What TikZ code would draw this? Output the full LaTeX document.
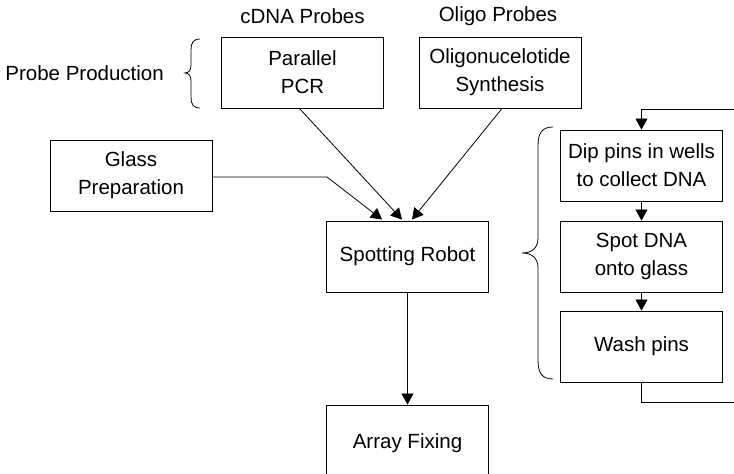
\documentclass[tikz,border=0pt]{standalone}
\usepackage{fontspec}
\setmainfont{Liberation Sans}
\usetikzlibrary{arrows.meta,calc}
\tikzset{
  box/.style={draw, line width=0.9pt, minimum width=162pt, minimum height=71pt, inner sep=0pt, align=center, font=\fontsize{20.5}{28}\selectfont},
  lbl/.style={inner sep=0pt, font=\fontsize{20.5}{28}\selectfont},
  conn/.style={line width=0.8pt},
  arr/.style={conn, -{Triangle[length=11pt,width=12pt]}},
  brace/.style={line width=0.8pt}
}
\begin{document}
\begin{tikzpicture}[x=1pt,y=-1pt]
\useasboundingbox (0,0) rectangle (734,474);
\clip (0,0) rectangle (734,474);
% nodes
\node[box] (pcr) at (302.5,72.5) {Parallel\\PCR};
\node[box] (oligo) at (500,72.5) {Oligonucelotide\\Synthesis};
\node[box] (glass) at (131,175.5) {Glass\\Preparation};
\node[box] (spot) at (407.5,256.5) {Spotting Robot};
\node[box, minimum height=75pt] (array) at (407.5,442.5) {};
\node[lbl] (arraytxt) at (407.5,443) {Array Fixing};
\node[box] (dip) at (641.5,165.5) {Dip pins in wells\\to collect DNA};
\node[box] (spotdna) at (641.5,256.5) {Spot DNA\\onto glass};
\node[box] (wash) at (641.5,346.5) {Wash pins};
% labels
\node[lbl] (cdna) at (302.5,16) {cDNA Probes};
\node[lbl] (oligop) at (498,16) {Oligo Probes};
\node[lbl, anchor=east] (prod) at (164,73) {Probe Production};
% braces
\draw[brace] (200,39) .. controls (193,39) and (191,43) .. (191,50) -- (191,65)
  .. controls (191,70) and (189,73) .. (185,73) .. controls (189,73) and (191,76) .. (191,81)
  -- (191,97) .. controls (191,104) and (193,108) .. (200,108);
\draw[brace] (553,127) .. controls (542,127) and (538,133) .. (538,146) -- (538,238)
  .. controls (538,248) and (532,253) .. (522,253) .. controls (532,253) and (538,258) .. (538,268)
  -- (538,360) .. controls (538,373) and (542,379) .. (553,379);
% connectors
\coordinate (tipA) at ($(spot.north)+(-25.5,-1)$);
\coordinate (tipB) at ($(spot.north)+(-5.5,-1)$);
\coordinate (tipC) at ($(spot.north)+(4.5,-1)$);
\coordinate (gbend) at (327,177);
\draw[arr] (glass.east |- gbend) -- (gbend) -- (tipA);
\draw[arr] ($(pcr.south)+(-3,0)$) -- (tipB);
\draw[arr] ($(oligo.south)+(2,0)$) -- (tipC);
\draw[arr] (spot.south) -- (array.north);
\draw[arr] (dip.south) -- (spotdna.north);
\draw[arr] (spotdna.south) -- (wash.north);
\coordinate (loopin) at (734,109);
\coordinate (loopout) at (734,402);
\draw[arr] (loopin) -- (dip.north |- loopin) -- (dip.north);
\draw[conn] (wash.south) -- (wash.south |- loopout) -- (loopout);
\end{tikzpicture}
\end{document}
